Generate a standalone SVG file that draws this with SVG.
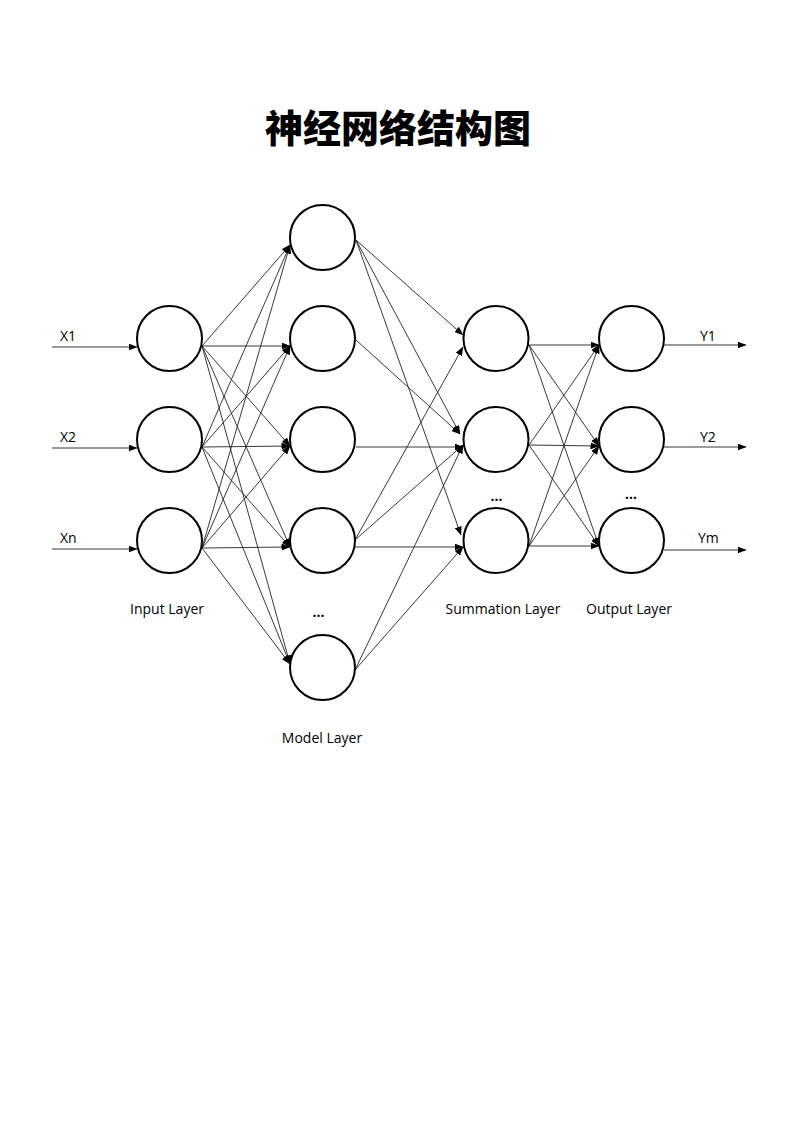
<svg xmlns="http://www.w3.org/2000/svg" width="800" height="1131" viewBox="0 0 800 1131">
<style>
.node{fill:#fff;stroke:#000;stroke-width:2}
.lbl{font-family:"Open Sans","Liberation Sans",sans-serif;font-size:14px;fill:#000}
.dots{font-family:"Open Sans","Liberation Sans",sans-serif;font-size:14px;font-weight:bold;fill:#000}
.title{font-family:"Noto Sans CJK SC",sans-serif;font-size:38px;font-weight:900;fill:#000}
#connectors line{stroke:#222;stroke-width:0.9;fill:none;marker-end:url(#arr)}
</style>
<defs>
<marker id="arr" markerUnits="userSpaceOnUse" markerWidth="9" markerHeight="7" refX="8.5" refY="3.5" orient="auto">
<path d="M0,0 L9,3.5 L0,7 z" fill="#000"/>
</marker>
</defs>
<rect width="800" height="1131" fill="#fff"/>
<text class="title" x="398" y="142" text-anchor="middle">神经网络结构图</text>

<g id="connectors">
<!-- inputs -->
<line x1="52" y1="347" x2="137" y2="347"/>
<line x1="52" y1="448" x2="137" y2="448"/>
<line x1="52" y1="549" x2="137" y2="549"/>
<!-- input to model -->
<line x1="202" y1="346" x2="290" y2="245"/>
<line x1="202" y1="346" x2="290" y2="346"/>
<line x1="202" y1="346" x2="290" y2="446"/>
<line x1="202" y1="346" x2="290" y2="547"/>
<line x1="202" y1="346" x2="290" y2="664"/>
<line x1="202" y1="447" x2="290" y2="245"/>
<line x1="202" y1="447" x2="290" y2="346"/>
<line x1="202" y1="447" x2="290" y2="446"/>
<line x1="202" y1="447" x2="290" y2="547"/>
<line x1="202" y1="447" x2="290" y2="664"/>
<line x1="202" y1="548" x2="290" y2="245"/>
<line x1="202" y1="548" x2="290" y2="346"/>
<line x1="202" y1="548" x2="290" y2="446"/>
<line x1="202" y1="548" x2="290" y2="547"/>
<line x1="202" y1="548" x2="290" y2="664"/>
<!-- model to summation -->
<line x1="356" y1="240" x2="463" y2="335"/>
<line x1="356" y1="240" x2="460" y2="434"/>
<line x1="356" y1="240" x2="461" y2="535"/>
<line x1="356" y1="340" x2="460" y2="434"/>
<line x1="356" y1="447" x2="463" y2="447"/>
<line x1="355" y1="540" x2="463" y2="347"/>
<line x1="355" y1="540" x2="463" y2="445"/>
<line x1="355" y1="547" x2="463" y2="547"/>
<line x1="355" y1="670" x2="463" y2="445"/>
<line x1="355" y1="670" x2="463" y2="547"/>
<!-- summation to output -->
<line x1="529" y1="345" x2="599" y2="345"/>
<line x1="529" y1="345" x2="599" y2="446"/>
<line x1="529" y1="345" x2="599" y2="546"/>
<line x1="529" y1="445" x2="599" y2="345"/>
<line x1="529" y1="445" x2="599" y2="446"/>
<line x1="529" y1="445" x2="599" y2="546"/>
<line x1="529" y1="546" x2="599" y2="345"/>
<line x1="529" y1="546" x2="599" y2="446"/>
<line x1="529" y1="546" x2="599" y2="546"/>
<!-- outputs -->
<line x1="664" y1="345" x2="746" y2="345"/>
<line x1="664" y1="447" x2="746" y2="447"/>
<line x1="664" y1="550" x2="746" y2="550"/>
</g>

<g id="input1"><circle class="node" cx="169.5" cy="338.5" r="32.5"/></g>
<g id="input2"><circle class="node" cx="169.5" cy="439.5" r="32.5"/></g>
<g id="input3"><circle class="node" cx="169.5" cy="540.5" r="32.5"/></g>

<g id="model1"><circle class="node" cx="322.5" cy="237.5" r="32.5"/></g>
<g id="model2"><circle class="node" cx="322.5" cy="338.5" r="32.5"/></g>
<g id="model3"><circle class="node" cx="322.5" cy="439.5" r="32.5"/></g>
<g id="model4"><circle class="node" cx="322.5" cy="540.5" r="32.5"/></g>
<g id="model5"><circle class="node" cx="322.5" cy="667.5" r="32.5"/></g>

<g id="sum1"><circle class="node" cx="496" cy="338.5" r="32.5"/></g>
<g id="sum2"><circle class="node" cx="496" cy="439.5" r="32.5"/></g>
<g id="sum3"><circle class="node" cx="496" cy="540.5" r="32.5"/></g>

<g id="out1"><circle class="node" cx="631.5" cy="338.5" r="32.5"/></g>
<g id="out2"><circle class="node" cx="631.5" cy="439.5" r="32.5"/></g>
<g id="out3"><circle class="node" cx="631.5" cy="540.5" r="32.5"/></g>

<g id="labels">
<text class="lbl" x="60" y="341">X1</text>
<text class="lbl" x="60" y="442">X2</text>
<text class="lbl" x="60" y="543">Xn</text>
<text class="lbl" x="700" y="341">Y1</text>
<text class="lbl" x="700" y="442">Y2</text>
<text class="lbl" x="698" y="543">Ym</text>
<text class="dots" x="318.5" y="617" text-anchor="middle">...</text>
<text class="dots" x="496.5" y="501" text-anchor="middle">...</text>
<text class="dots" x="631" y="499" text-anchor="middle">...</text>
<text class="lbl" x="167" y="614" text-anchor="middle">Input Layer</text>
<text class="lbl" x="322" y="743" text-anchor="middle">Model Layer</text>
<text class="lbl" x="503" y="614" text-anchor="middle">Summation Layer</text>
<text class="lbl" x="629" y="614" text-anchor="middle">Output Layer</text>
</g>
</svg>
